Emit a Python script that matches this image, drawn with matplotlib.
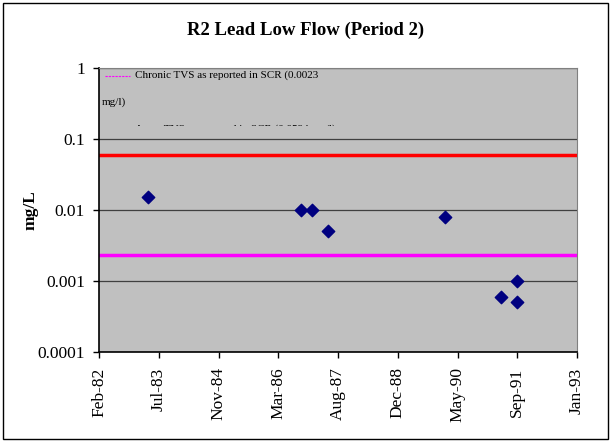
import matplotlib
matplotlib.use("Agg")
import matplotlib.pyplot as plt
import matplotlib.patches as mpatches
from matplotlib.transforms import Bbox, TransformedBbox
import datetime as dt

plt.rcParams['font.family'] = ['Liberation Serif', 'DejaVu Serif']

# sample dates and lead concentrations (mg/L)
dates = [dt.date(1983, 4, 7), dt.date(1986, 10, 2), dt.date(1987, 1, 2),
         dt.date(1987, 5, 21), dt.date(1990, 1, 20), dt.date(1991, 5, 5),
         dt.date(1991, 9, 21), dt.date(1991, 9, 21)]
lead = [0.015, 0.01, 0.01, 0.005, 0.008, 0.0006, 0.001, 0.0005]

acute_tvs = 0.0594
chronic_tvs = 0.0023

# Excel serial 30000..34000, step 500 days
excel0 = dt.date(1899, 12, 30)
tick_dates = [excel0 + dt.timedelta(days=d) for d in range(30000, 34001, 500)]
tick_labels = [d.strftime('%b-%y') for d in tick_dates]

fig = plt.figure(figsize=(6.11, 4.42), dpi=100)
ax = fig.add_axes([99/611, 1-352/442, (577-99)/611, (352-68)/442])
ax.set_facecolor('#C0C0C0')

ax.set_yscale('log')
ax.set_ylim(0.0001, 1)
ax.set_yticks([1, 0.1, 0.01, 0.001, 0.0001])
ax.set_yticklabels(['1', '0.1', '0.01', '0.001', '0.0001'], fontsize=12.5)
ax.yaxis.set_minor_locator(matplotlib.ticker.NullLocator())
ax.grid(axis='y', color='#404040', linewidth=0.9)
ax.set_axisbelow(True)

ax.set_xlim(tick_dates[0], tick_dates[-1])
ax.set_xticks(tick_dates)
ax.set_xticklabels(tick_labels, rotation=90, fontsize=12.5)

ax.axhline(acute_tvs, color='#FF0000', linewidth=2.5)
ax.axhline(chronic_tvs, color='#FF00FF', linewidth=2.5)
ax.scatter(dates, lead, marker='D', s=40, color='#000080', zorder=3)

ax.tick_params(direction='out', length=4, width=1, colors='black')
ax.tick_params(axis='y', pad=6)
ax.tick_params(axis='x', pad=7)
for s in ['top', 'right']:
    ax.spines[s].set_color('#808080')
for s in ['left', 'bottom']:
    ax.spines[s].set_color('black')
    ax.spines[s].set_linewidth(1.2)

# squashed legend at top left (as in the original)
ax.plot([0.012, 0.065], [0.972, 0.972], transform=ax.transAxes, color='#FF00FF',
        linewidth=0.8, dashes=(2, 1))
ax.text(0.075, 0.975, 'Chronic TVS as reported in SCR (0.0023', transform=ax.transAxes,
        fontsize=8, va='center')
ax.text(0.005, 0.88, 'mg/l)', transform=ax.transAxes, fontsize=8, va='center')
clip_box = TransformedBbox(Bbox([[0, 0.797], [1, 1]]), ax.transAxes)
t = ax.text(0.075, 0.786, 'Acute TVS as reported in SCR (0.0594 mg/l)', transform=ax.transAxes,
            fontsize=8, va='center')
t.set_clip_on(True)
t.set_clip_box(clip_box)

ax.set_ylabel('mg/L', fontsize=12.5, fontweight='bold', labelpad=-1)
fig.text(0.5, 1-30/442, 'R2 Lead Low Flow (Period 2)', ha='center', va='center',
         fontsize=13.5, fontweight='bold')

fig.patches.append(mpatches.Rectangle((3/611, 3/442), 1-6/611, 1-6/442, transform=fig.transFigure,
                                      fill=False, edgecolor='black', linewidth=1))

fig.savefig('out.png', dpi=100)
